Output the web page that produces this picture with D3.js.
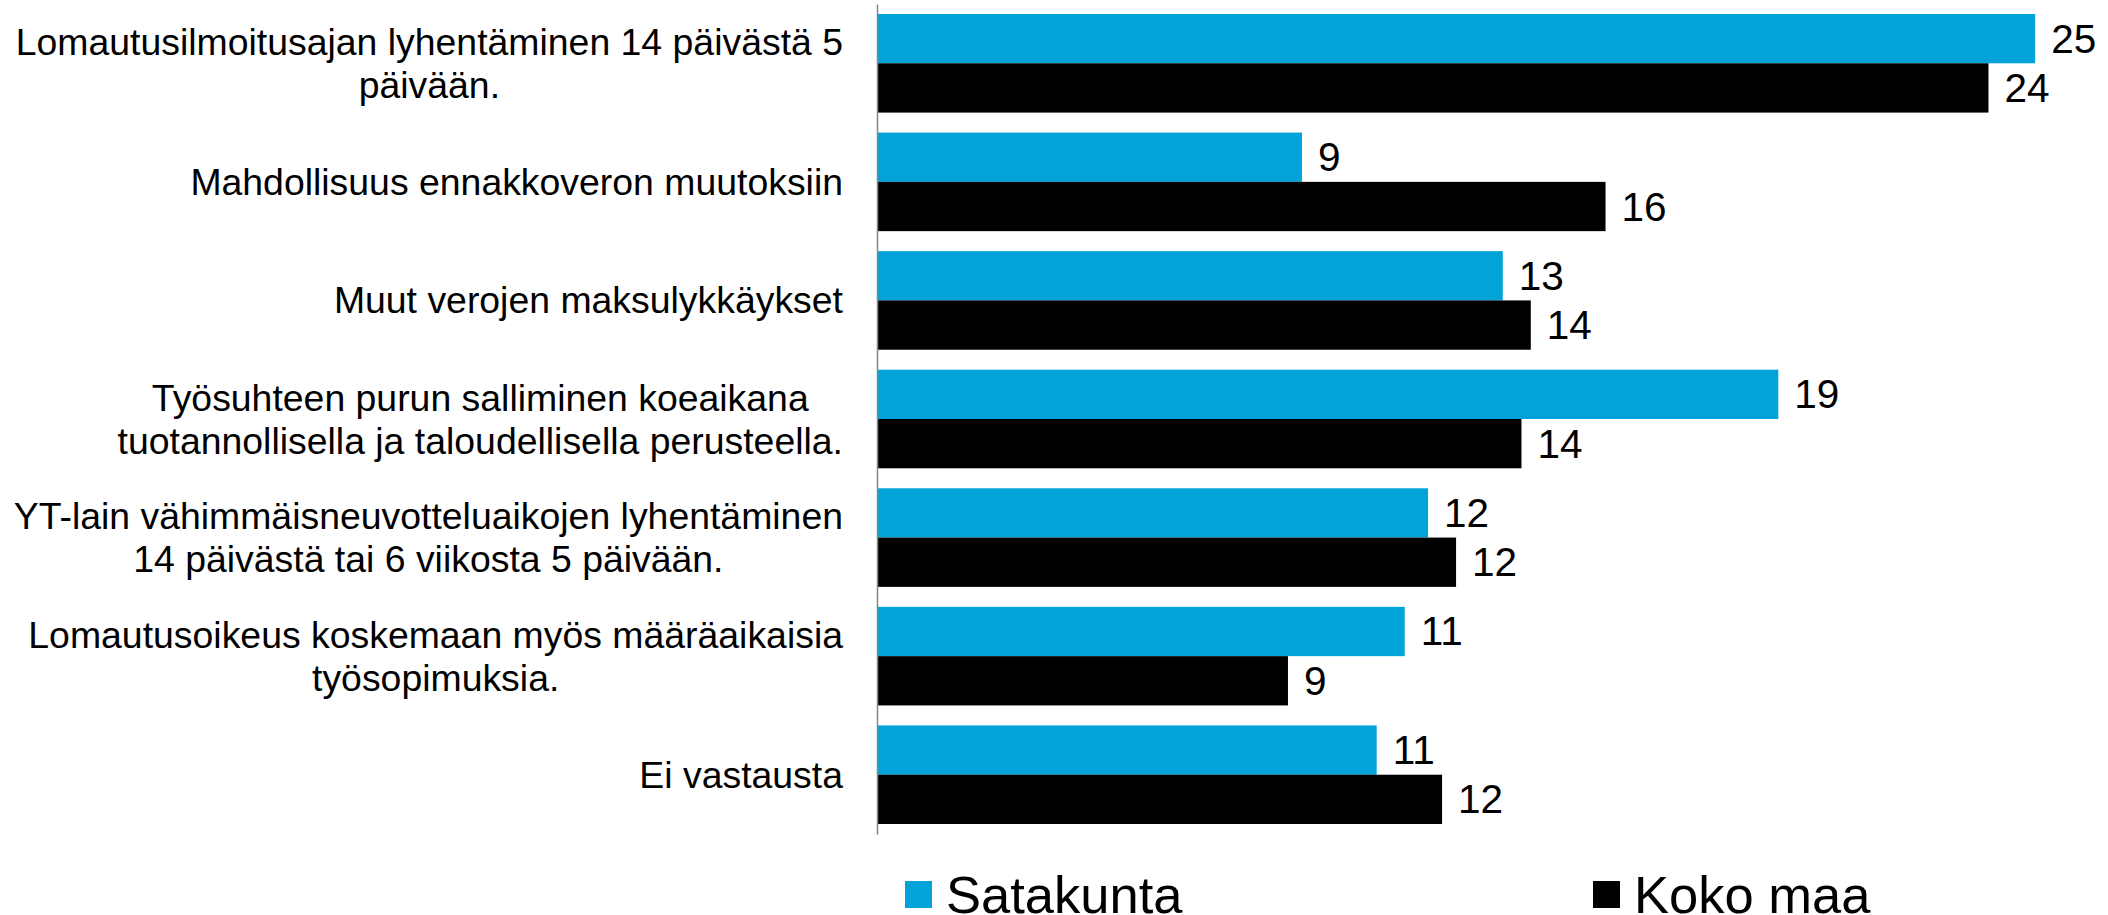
<!DOCTYPE html>
<html>
<head>
<meta charset="utf-8">
<script src="https://cdn.jsdelivr.net/npm/d3@7"></script>
<style>
  body { margin: 0; background: #fff; }
  text { font-family: "Liberation Sans", Arial, sans-serif; fill: #000; }
</style>
</head>
<body>
<div id="chart"></div>
<script>
// categories, one entry per line of the label
var categories = [
  ["Lomautusilmoitusajan lyhentäminen 14 päivästä 5", "päivään."],
  ["Mahdollisuus ennakkoveron muutoksiin"],
  ["Muut verojen maksulykkäykset"],
  ["Työsuhteen purun salliminen koeaikana", "tuotannollisella ja taloudellisella perusteella."],
  ["YT-lain vähimmäisneuvotteluaikojen lyhentäminen", "14 päivästä tai 6 viikosta 5 päivään."],
  ["Lomautusoikeus koskemaan myös määräaikaisia", "työsopimuksia."],
  ["Ei vastausta"]
];
var satakunta = [24.8, 9.1, 13.4, 19.3, 11.8, 11.3, 10.7];
var kokoMaa   = [23.8, 15.6, 14.0, 13.8, 12.4, 8.8, 12.1];
var seriesNames = ["Satakunta", "Koko maa"];
var colors = ["#02a3d9", "#000000"];

var W = 2108, H = 915;
var margin = {left: 877, top: 4};

var svg = d3.select("#chart")
  .append("svg")
    .attr("width", W)
    .attr("height", H);

var g = svg.append("g")
  .attr("transform", "translate(" + margin.left + ",0)");

// x scale
var x = d3.scaleLinear()
  .domain([0, 25])
  .range([0, 25 * 46.7]);

// y scale
var y = d3.scaleBand()
  .domain(d3.range(categories.length))
  .range([4, 834])
  .paddingInner(0.1686)
  .paddingOuter(0.0843);

var ySub = d3.scaleBand()
  .domain([0, 1])
  .range([0, y.bandwidth()]);

var series = [satakunta, kokoMaa];
var fmt = d3.format(".0f");

// bars + value labels
series.forEach(function(vals, s) {
  g.selectAll(".bar" + s)
    .data(vals)
    .enter()
    .append("rect")
      .attr("class", "bar" + s)
      .attr("x", 0)
      .attr("y", function(d, i) { return y(i) + ySub(s); })
      .attr("width", function(d) { return x(d); })
      .attr("height", ySub.bandwidth())
      .style("fill", colors[s]);

  g.selectAll(".lbl" + s)
    .data(vals)
    .enter()
    .append("text")
      .attr("class", "lbl" + s)
      .attr("x", function(d) { return x(d) + 16; })
      .attr("y", function(d, i) { return y(i) + ySub(s) + ySub.bandwidth() / 2; })
      .attr("dominant-baseline", "central")
      .style("font-size", "40.5px")
      .text(function(d) { return fmt(d); });
});

// Y axis line
g.append("g")
  .call(d3.axisLeft(y).tickSize(0).tickSizeOuter(0).tickFormat(""))
  .call(function(a) {
    a.select(".domain").attr("stroke", "#868686").attr("stroke-width", 1.5);
  });

// category labels, centred lines, right edge at x=843
var lineH = 43;
categories.forEach(function(lines, i) {
  var cy = y(i) + y.bandwidth() / 2;
  var t = svg.append("text")
    .style("font-size", "37.4px")
    .attr("text-anchor", "middle")
    .attr("dominant-baseline", "central");
  lines.forEach(function(l, k) {
    t.append("tspan")
      .attr("y", cy + (k - (lines.length - 1) / 2) * lineH)
      .text(l);
  });
  var maxW = 0;
  t.selectAll("tspan").each(function() {
    maxW = Math.max(maxW, this.getComputedTextLength());
  });
  t.selectAll("tspan").attr("x", 843 - maxW / 2);
});

// Legend
var legendX = [905, 1593];
seriesNames.forEach(function(name, s) {
  svg.append("rect")
    .attr("x", legendX[s])
    .attr("y", 881)
    .attr("width", 27)
    .attr("height", 27)
    .style("fill", colors[s]);
  svg.append("text")
    .attr("x", legendX[s] + 41)
    .attr("y", 894)
    .attr("dominant-baseline", "central")
    .style("font-size", "52.5px")
    .text(name);
});
</script>
</body>
</html>
